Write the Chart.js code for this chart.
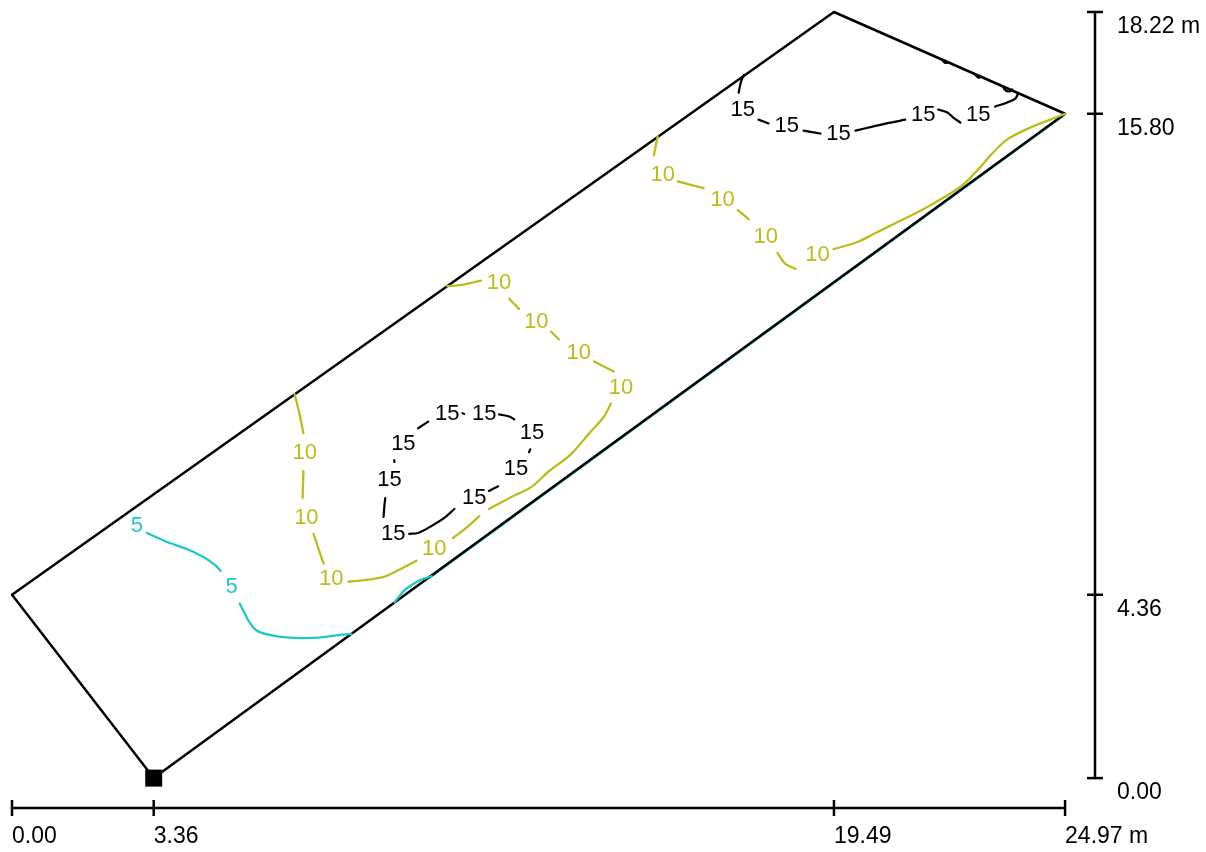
<!DOCTYPE html>
<html>
<head>
<meta charset="utf-8">
<title>Isolines</title>
<script src="https://cdn.jsdelivr.net/npm/chart.js@4.4.1/dist/chart.umd.min.js"></script>
<style>
  html, body { margin: 0; padding: 0; background: #fff; }
  #chart { display: block; }
</style>
</head>
<body>
<canvas id="chart" width="1206" height="852"></canvas>
<script>
// room outline in metres, walked round from the origin corner
var roomOutline = [[3.36, 0], [0, 4.36], [19.49, 18.22], [24.97, 15.80], [3.36, 0]];
var originMark = [[3.36, 0]];

// dimension ticks (m)
var xTicks = [0, 3.36, 19.49, 24.97];
var yTicks = [0, 4.36, 15.80, 18.22];

// isolines, cut into pieces where the labels sit
var iso5Lines = [
    [[3.20, 5.83], [3.62, 5.64], [4.19, 5.43], [4.57, 5.24], [4.81, 5.07], [4.95, 4.93]],
    [[5.40, 4.15], [5.61, 3.74], [5.80, 3.51], [6.08, 3.41], [6.56, 3.34], [7.27, 3.34], [7.65, 3.39], [8.05, 3.43]],
    [[9.07, 4.18], [9.30, 4.46], [9.52, 4.62], [9.70, 4.72], [9.95, 4.80]]
];
// piece that runs along the lower wall, mostly hidden under it
var iso5Wall = [[9.90, 4.76], [24.90, 15.73]];
var iso5Labels = [[2.96, 6.00], [5.21, 4.55]];

var iso10Lines = [
    [[6.70, 9.13], [6.82, 8.65], [6.91, 8.20]],
    [[6.91, 7.30], [6.89, 6.66]],
    [[7.15, 5.81], [7.34, 5.24], [7.39, 5.10]],
    [[7.98, 4.67], [8.45, 4.72], [8.83, 4.79], [9.23, 4.98], [9.59, 5.17]],
    [[10.46, 5.71], [10.77, 5.95], [11.08, 6.23]],
    [[11.31, 6.40], [11.83, 6.68], [12.31, 6.92], [12.71, 7.28], [13.25, 7.70], [13.73, 8.25], [14.04, 8.60], [14.20, 8.91]],
    [[14.27, 9.67], [13.80, 9.91]],
    [[12.97, 10.43], [12.78, 10.62]],
    [[12.02, 11.16], [11.79, 11.40]],
    [[11.12, 11.83], [10.65, 11.73], [10.32, 11.70]],
    [[15.31, 15.26], [15.27, 15.07], [15.22, 14.81]],
    [[15.79, 14.19], [16.40, 14.03]],
    [[17.21, 13.51], [17.47, 13.29]],
    [[18.15, 12.49], [18.34, 12.23], [18.58, 12.11]],
    [[19.48, 12.58], [20.05, 12.75], [20.43, 12.94], [20.99, 13.22], [21.61, 13.53], [22.18, 13.86], [22.56, 14.12],
     [22.96, 14.53], [23.20, 14.81], [23.60, 15.19], [24.14, 15.47], [24.62, 15.66], [24.97, 15.80]]
];
var iso10Labels = [[6.94, 7.73], [6.98, 6.19], [7.57, 4.74], [10.01, 5.45], [14.44, 9.27], [13.44, 10.10],
    [12.43, 10.85], [11.55, 11.78], [15.43, 14.34], [16.85, 13.74], [17.87, 12.87], [19.10, 12.44]];

var iso15Lines = [
    [[17.35, 16.72], [17.28, 16.54], [17.23, 16.30]],
    [[17.70, 15.66], [17.94, 15.57]],
    [[18.77, 15.40], [19.17, 15.33]],
    [[20.00, 15.40], [20.43, 15.50], [20.83, 15.59], [21.18, 15.66]],
    [[21.96, 15.90], [22.18, 15.83], [22.32, 15.71], [22.49, 15.59]],
    [[23.31, 15.97], [23.60, 16.07], [23.79, 16.16], [23.86, 16.29]],
    // little bumps on the upper right wall
    [[22.04, 17.10], [22.12, 17.01], [22.20, 17.02]],
    [[22.82, 16.75], [22.91, 16.66], [22.99, 16.68]],
    [[23.50, 16.45], [23.55, 16.36], [23.65, 16.33], [23.72, 16.38]],
    // inner ring
    [[10.68, 8.68], [10.72, 8.66]],
    [[11.55, 8.65], [11.79, 8.60], [11.91, 8.53]],
    [[12.29, 7.82], [12.26, 7.75]],
    [[11.53, 6.94], [11.31, 6.83]],
    [[10.49, 6.40], [10.25, 6.19], [9.87, 5.95], [9.63, 5.83], [9.42, 5.81]],
    [[8.81, 6.21], [8.83, 6.47], [8.85, 6.66]],
    [[9.06, 7.56], [9.07, 7.52]],
    [[9.63, 8.32], [9.87, 8.48]]
];
var iso15Labels = [[17.33, 15.88], [18.37, 15.50], [19.60, 15.33], [21.61, 15.78], [22.91, 15.78],
    [10.32, 8.67], [11.20, 8.67], [12.33, 8.22], [11.95, 7.35], [10.96, 6.66], [9.04, 5.81], [8.95, 7.09], [9.28, 7.94]];

var CYAN = '#1ec8c8';
var OLIVE = '#bcbc1c';
var BLACK = '#000000';
var FONT = '"Liberation Sans", Arial, sans-serif';

// where the two dimension lines sit, outside the room
var X_MAX = 25.68;
var Y_MIN = -0.711;

var labelSets = [
    {text: '5', color: CYAN, points: iso5Labels},
    {text: '10', color: OLIVE, points: iso10Labels},
    {text: '15', color: BLACK, points: iso15Labels}
];

function toPoints(list) {
    return list.map(function(p) {
        return {x: p[0], y: p[1]};
    });
}

/**
 * A plain polyline dataset
 */
function lineSet(list, color, width, tension, order) {
    return {
        data: toPoints(list),
        showLine: true,
        borderColor: color,
        borderWidth: width,
        pointRadius: 0,
        tension: tension,
        fill: false,
        clip: false,
        borderCapStyle: 'round',
        borderJoinStyle: 'round',
        order: order
    };
}

function tickSet(list, rotation) {
    return {
        data: toPoints(list),
        showLine: false,
        pointStyle: 'line',
        pointRadius: 8,
        pointRotation: rotation,
        borderColor: BLACK,
        borderWidth: 2.5,
        clip: false,
        order: 0
    };
}

var datasets = [];

// wall hugging cyan goes underneath everything
datasets.push(lineSet(iso5Wall, CYAN, 2.2, 0, 20));
datasets.push(lineSet(roomOutline, BLACK, 2.5, 0, 10));

iso5Lines.forEach(function(l) { datasets.push(lineSet(l, CYAN, 2.3, 0.3, 5)); });
iso10Lines.forEach(function(l) { datasets.push(lineSet(l, OLIVE, 2.3, 0.3, 5)); });
iso15Lines.forEach(function(l) { datasets.push(lineSet(l, BLACK, 2.2, 0.3, 5)); });

// dimension lines with their ticks
datasets.push(lineSet([[xTicks[0], Y_MIN], [xTicks[xTicks.length - 1], Y_MIN]], BLACK, 2.5, 0, 1));
datasets.push(lineSet([[X_MAX, yTicks[0]], [X_MAX, yTicks[yTicks.length - 1]]], BLACK, 2.5, 0, 1));
datasets.push(tickSet(xTicks.map(function(v) { return [v, Y_MIN]; }), 90));
datasets.push(tickSet(yTicks.map(function(v) { return [X_MAX, v]; }), 0));

datasets.push({
    data: toPoints(originMark),
    pointStyle: 'rect',
    pointRadius: 12,
    backgroundColor: BLACK,
    borderColor: BLACK,
    borderWidth: 0,
    clip: false,
    order: 0
});

var isoLabelPlugin = {
    id: 'isoLabels',
    afterDatasetsDraw: function(chart) {
        var ctx = chart.ctx;
        var xs = chart.scales.x;
        var ys = chart.scales.y;

        ctx.save();
        ctx.font = '22px ' + FONT;
        ctx.textAlign = 'center';
        ctx.textBaseline = 'middle';
        labelSets.forEach(function(set) {
            ctx.fillStyle = set.color;
            set.points.forEach(function(p) {
                ctx.fillText(set.text, xs.getPixelForValue(p[0]), ys.getPixelForValue(p[1]));
            });
        });
        ctx.restore();
    }
};

function tickLabel(value, index, ticks) {
    var txt = Number(value).toFixed(2);
    if (index === ticks.length - 1) {
        txt += ' m';
    }
    return txt;
}

new Chart(document.getElementById('chart'), {
    type: 'scatter',
    data: {datasets: datasets},
    options: {
        responsive: false,
        animation: false,
        events: [],
        layout: {padding: {left: 10, top: 9, right: 0, bottom: 0}},
        plugins: {
            legend: {display: false},
            tooltip: {enabled: false}
        },
        scales: {
            x: {
                type: 'linear',
                position: 'bottom',
                min: 0,
                max: X_MAX,
                grid: {display: false},
                border: {display: false},
                afterBuildTicks: function(s) {
                    s.ticks = xTicks.map(function(v) { return {value: v}; });
                },
                afterFit: function(s) {
                    s.height = 44;
                    s.paddingLeft = 0;
                    s.paddingRight = 0;
                },
                ticks: {
                    align: 'start',
                    autoSkip: false,
                    maxRotation: 0,
                    padding: 7,
                    color: BLACK,
                    font: {family: FONT, size: 23},
                    callback: tickLabel
                }
            },
            y: {
                type: 'linear',
                position: 'right',
                min: Y_MIN,
                max: 18.22,
                grid: {display: false},
                border: {display: false},
                afterBuildTicks: function(s) {
                    s.ticks = yTicks.map(function(v) { return {value: v}; });
                },
                afterFit: function(s) {
                    s.width = 111;
                    s.paddingTop = 0;
                    s.paddingBottom = 0;
                },
                ticks: {
                    align: 'start',
                    autoSkip: false,
                    padding: 14,
                    labelOffset: 3,
                    color: BLACK,
                    font: {family: FONT, size: 23},
                    callback: tickLabel
                }
            }
        }
    },
    plugins: [isoLabelPlugin]
});
</script>
</body>
</html>
